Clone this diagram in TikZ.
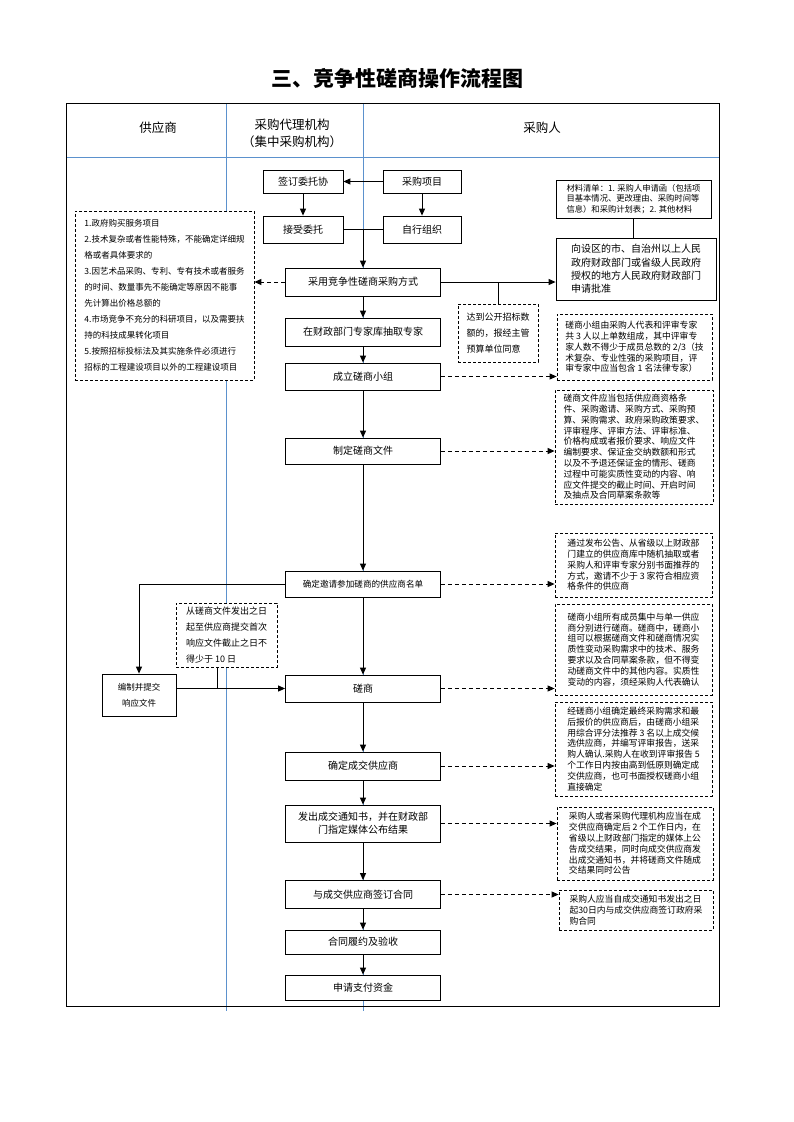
\documentclass[tikz,border=0pt]{standalone}
\usepackage{fontspec}
\setmainfont{Noto Sans CJK SC}
\usetikzlibrary{arrows.meta}
\definecolor{lineblue}{RGB}{91,145,205}
\begin{document}
\begin{tikzpicture}[x=1pt,y=-1pt,
  box/.style={draw, line width=0.8pt, fill=white, inner sep=0pt, align=center, font=\fontsize{10}{13.3}\selectfont},
  mainbox/.style={box, minimum width=155pt},
  dbox/.style={draw, line width=0.8pt, dash pattern=on 3pt off 2pt, fill=white, inner sep=0pt, align=left, font=\fontsize{8.8}{10.8}\selectfont},
  rbox/.style={dbox, minimum width=156pt},
  arr/.style={line width=1pt, -{Triangle[length=7pt,width=6pt]}},
  darr/.style={arr, dash pattern=on 4pt off 3pt},
  plain/.style={line width=1pt},
  divider/.style={draw=lineblue, line width=0.8pt},
  hdr/.style={font=\fontsize{12.5}{17}\selectfont, align=center}
]
\useasboundingbox (0,0) rectangle (793,1122);

% title
\node[font=\fontsize{21}{21}\selectfont\bfseries] (title) at (397,78) {三、竞争性磋商操作流程图};

% lanes
\draw[divider] (226,103) -- (226,1011);
\draw[divider] (363,103) -- (363,1011);
\draw[divider] (66,157) -- (719,157);
\draw[line width=0.8pt] (66,103) rectangle (719,1006);

\node[hdr] (h1) at (158,128) {供应商};
\node[hdr] (h2) at (292,133) {采购代理机构\\（集中采购机构）};
\node[hdr] (h3) at (542,128) {采购人};

% top boxes
\node[box, minimum width=80pt, minimum height=23pt] (weituo) at (303,181.5) {签订委托协};
\node[box, minimum width=78pt, minimum height=23pt] (xiangmu) at (422,181.5) {采购项目};
\node[box, minimum width=80pt, minimum height=27pt] (jieshou) at (303,229.5) {接受委托};
\node[box, minimum width=78pt, minimum height=27pt] (zixing) at (422,229.5) {自行组织};

% main column
\node[mainbox, minimum height=28pt] (caiyong) at (363,282) {采用竞争性磋商采购方式};
\node[mainbox, minimum height=28pt] (chouqu) at (363,332) {在财政部门专家库抽取专家};
\node[mainbox, minimum height=27pt] (chengli) at (363,376.5) {成立磋商小组};
\node[mainbox, minimum height=26pt] (zhiding) at (363,451) {制定磋商文件};
\node[mainbox, minimum height=26pt, font=\fontsize{8.6}{11}\selectfont] (yaoqing) at (363,584) {确定邀请参加磋商的供应商名单};
\node[mainbox, minimum height=27pt] (cuoshang) at (363,688.5) {磋商};
\node[mainbox, minimum height=28pt] (queding) at (363,766) {确定成交供应商};
\node[mainbox, minimum height=37pt] (fachu) at (363,823.5) {发出成交通知书，并在财政部\\门指定媒体公布结果};
\node[mainbox, minimum height=28pt] (hetong) at (363,894.5) {与成交供应商签订合同};
\node[mainbox, minimum height=24pt] (lvyue) at (363,942) {合同履约及验收};
\node[mainbox, minimum height=25pt] (zhifu) at (363,987.5) {申请支付资金};

% purchaser column
\node[box, align=left, minimum width=155pt, minimum height=38pt, font=\fontsize{8.3}{10.8}\selectfont] (cailiao) at (633.5,199)
 {材料清单：1. 采购人申请函（包括项\\目基本情况、更改理由、采购时间等\\信息）和采购计划表；2. 其他材料};
\node[box, align=left, minimum width=160pt, minimum height=62pt] (shenpi) at (636,269)
 {向设区的市、自治州以上人民\\政府财政部门或省级人民政府\\授权的地方人民政府财政部门\\申请批准};
\node[dbox, minimum width=80pt, minimum height=58pt, font=\fontsize{9}{15.7}\selectfont] (dadao) at (498,333)
 {达到公开招标数\\额的，报经主管\\预算单位同意};

\node[rbox, minimum width=155pt, minimum height=66pt] (r1) at (634.5,347)
 {磋商小组由采购人代表和评审专家\\共 3 人以上单数组成，其中评审专\\家人数不得少于成员总数的 2/3（技\\术复杂、专业性强的采购项目，评\\审专家中应当包含 1 名法律专家）};
\node[rbox, minimum width=158pt, minimum height=114pt] (r2) at (634,447)
 {磋商文件应当包括供应商资格条\\件、采购邀请、采购方式、采购预\\算、采购需求、政府采购政策要求、\\评审程序、评审方法、评审标准、\\价格构成或者报价要求、响应文件\\编制要求、保证金交纳数额和形式\\以及不予退还保证金的情形、磋商\\过程中可能实质性变动的内容、响\\应文件提交的截止时间、开启时间\\及抽点及合同草案条款等};
\node[rbox, minimum width=157pt, minimum height=64pt] (r3) at (633.5,565)
 {通过发布公告、从省级以上财政部\\门建立的供应商库中随机抽取或者\\采购人和评审专家分别书面推荐的\\方式，邀请不少于 3 家符合相应资\\格条件的供应商};
\node[rbox, minimum width=157pt, minimum height=91pt] (r4) at (633.5,649.5)
 {磋商小组所有成员集中与单一供应\\商分别进行磋商。磋商中，磋商小\\组可以根据磋商文件和磋商情况实\\质性变动采购需求中的技术、服务\\要求以及合同草案条款，但不得变\\动磋商文件中的其他内容。实质性\\变动的内容，须经采购人代表确认};
\node[rbox, minimum width=157pt, minimum height=94pt] (r5) at (633.5,749)
 {经磋商小组确定最终采购需求和最\\后报价的供应商后，由磋商小组采\\用综合评分法推荐 3 名以上成交候\\选供应商，并编写评审报告，送采\\购人确认.采购人在收到评审报告 5\\个工作日内按由高到低原则确定成\\交供应商，也可书面授权磋商小组\\直接确定};
\node[rbox, minimum width=156pt, minimum height=73pt] (r6) at (635,843.5)
 {采购人或者采购代理机构应当在成\\交供应商确定后 2 个工作日内，在\\省级以上财政部门指定的媒体上公\\告成交结果，同时向成交供应商发\\出成交通知书，并将磋商文件随成\\交结果同时公告};
\node[rbox, minimum width=154pt, minimum height=40pt] (r7) at (636,910)
 {采购人应当自成交通知书发出之日\\起30日内与成交供应商签订政府采\\购合同};

% supplier column
\node[dbox, minimum width=179pt, minimum height=169pt, font=\fontsize{8.5}{16}\selectfont] (leftbox) at (164.5,295.5)
 {1.政府购买服务项目\\2.技术复杂或者性能特殊，不能确定详细规\\格或者具体要求的\\3.因艺术品采购、专利、专有技术或者服务\\的时间、数量事先不能确定等原因不能事\\先计算出价格总额的\\4.市场竞争不充分的科研项目，以及需要扶\\持的科技成果转化项目\\5.按照招标投标法及其实施条件必须进行\\招标的工程建设项目以外的工程建设项目};
\node[box, minimum width=74pt, minimum height=42pt, font=\fontsize{8.5}{15.7}\selectfont] (bianzhi) at (139,695) {编制并提交\\响应文件};
\node[dbox, minimum width=101pt, minimum height=64pt, font=\fontsize{9}{16}\selectfont] (cong) at (226.5,635)
 {从磋商文件发出之日\\起至供应商提交首次\\响应文件截止之日不\\得少于 10 日};

% connectors
\draw[arr] (xiangmu.west) -- (weituo.east);
\draw[arr] (weituo.south) -- (jieshou.north);
\draw[arr] (xiangmu.south) -- (zixing.north);
\draw[plain] (jieshou.east) -- (zixing.west);
\coordinate (m1) at (363,229.5);
\draw[arr] (m1) -- (caiyong.north);
\draw[darr] (caiyong.west) -- (leftbox.east |- caiyong.west);
\draw[arr] (caiyong.east) -- (caiyong.east -| shenpi.west);
\coordinate (j1) at (498,282);
\draw[plain] (j1) -- (dadao.north);
\draw[plain] (cailiao.south) -- (cailiao.south |- shenpi.north);

\foreach \a/\b in {caiyong/chouqu, chouqu/chengli, chengli/zhiding, zhiding/yaoqing, yaoqing/cuoshang, cuoshang/queding, queding/fachu, fachu/hetong, hetong/lvyue, lvyue/zhifu}
  \draw[arr] (\a.south) -- (\b.north);

\draw[darr] (chengli.east) -- (chengli.east -| r1.west);
\draw[darr] (zhiding.east) -- (zhiding.east -| r2.west);
\draw[darr] (yaoqing.east) -- (yaoqing.east -| r3.west);
\draw[darr] (cuoshang.east) -- (cuoshang.east -| r4.west);
\draw[darr] (queding.east) -- (queding.east -| r5.west);
\draw[darr] (fachu.east) -- (fachu.east -| r6.west);
\draw[darr] (hetong.east) -- (hetong.east -| r7.west);

\draw[arr] (yaoqing.west) -| (bianzhi.north);
\draw[arr] (bianzhi.east |- cuoshang.west) -- (cuoshang.west);
\coordinate (j2) at (217,688.5);
\draw[plain] (cong.south -| j2) -- (j2);
\end{tikzpicture}
\end{document}
